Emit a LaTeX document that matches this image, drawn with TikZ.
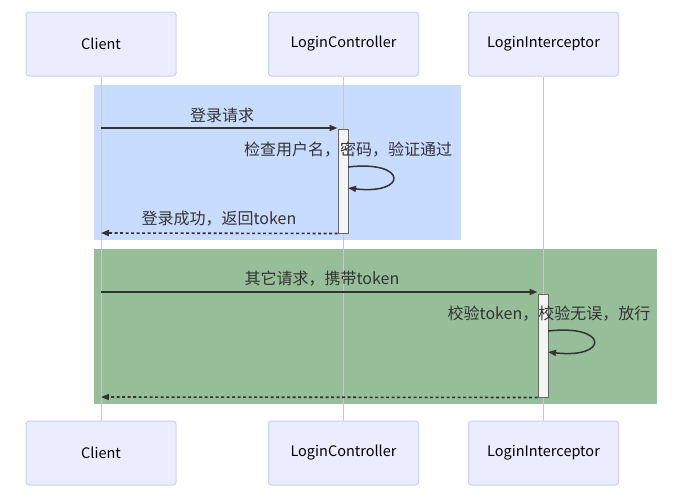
\documentclass[tikz,border=0pt]{standalone}
\usepackage{fontspec}
\setmainfont{Noto Sans CJK SC}
\usetikzlibrary{arrows.meta}
\definecolor{actfill}{HTML}{ECECFF}
\definecolor{actdraw}{HTML}{CCCCFF}
\definecolor{lifec}{HTML}{C8C8C8}
\definecolor{msgc}{HTML}{333333}
\definecolor{blueb}{RGB}{200,220,255}
\definecolor{greenb}{RGB}{150,190,153}
\definecolor{actvfill}{HTML}{F4F4F4}
\definecolor{actvdraw}{HTML}{666666}
\tikzset{
  actor/.style={draw=actdraw, fill=actfill, line width=1pt, rounded corners=3pt, minimum width=150pt, minimum height=64pt, font=\fontsize{14.5}{16}\selectfont, text=black, inner sep=0pt},
  lifeline/.style={draw=lifec, line width=0.8pt},
  activ/.style={draw=actvdraw, fill=actvfill, line width=1pt, minimum width=10pt, inner sep=0pt},
  msg/.style={draw=msgc, line width=1.6pt, -{Triangle[length=8pt,width=6pt]}},
  ret/.style={msg, dash pattern=on 3pt off 2.5pt},
  loopmsg/.style={draw=msgc, line width=1.5pt, -{Triangle[length=8pt,width=6pt]}},
  lbl/.style={font=\fontsize{16}{18}\selectfont, text=msgc, inner sep=0pt}
}
\begin{document}
\begin{tikzpicture}[x=1pt,y=-1pt]
\useasboundingbox (0,0) rectangle (683,501);
% boxes
\fill[blueb] (94,85) rectangle (461,240);
\fill[greenb] (94,249) rectangle (657,404);
% actors
\node[actor] (cT) at (101,44) {Client};
\node[actor] (lcT) at (343.5,44) {LoginController};
\node[actor] (liT) at (543.5,44) {LoginInterceptor};
\node[actor] (cB) at (101,453) {Client};
\node[actor] (lcB) at (343.5,453) {LoginController};
\node[actor] (liB) at (543.5,453) {LoginInterceptor};
% lifelines
\draw[lifeline] (cT.south) -- (cB.north);
\draw[lifeline] (lcT.south) -- (lcB.north);
\draw[lifeline] (liT.south) -- (liB.north);
% activations
\node[activ, minimum height=104pt] (a1) at (343,181) {};
\node[activ, minimum height=103pt] (a2) at (543,345.5) {};
% coordinates on client lifeline
\coordinate (c1) at (101,128);
\coordinate (c2) at (101,233);
\coordinate (c3) at (101,292);
\coordinate (c4) at (101,397);
% messages
\draw[msg] (c1) -- (a1.north west |- c1);
\node[lbl] (t1) at (222,115) {登录请求};
\coordinate (l1s) at (348,167);
\coordinate (l1e) at (348,188);
\node[lbl] (t2) at (348,150) {检查用户名，密码，验证通过};
\draw[loopmsg] (l1s) .. controls (408,160) and (408,195) .. (l1e);
\draw[ret] (a1.south west) -- (c2);
\node[lbl] (t3) at (219,219) {登录成功，返回token};
\draw[msg] (c3) -- (a2.north west |- c3);
\node[lbl] (t4) at (322,279) {其它请求，携带token};
\coordinate (l2s) at (548,331);
\coordinate (l2e) at (548,352);
\node[lbl] (t5) at (549,314) {校验token，校验无误，放行};
\draw[loopmsg] (l2s) .. controls (609,324) and (609,359) .. (l2e);
\draw[ret] (a2.south west) -- (c4);
\end{tikzpicture}
\end{document}
